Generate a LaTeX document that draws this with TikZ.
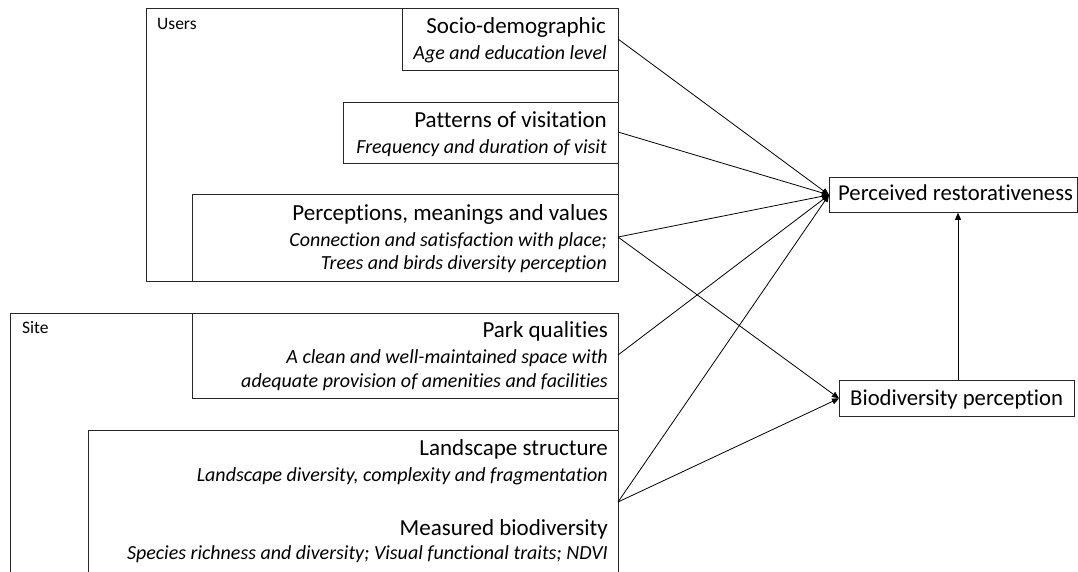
\documentclass[tikz,border=0pt]{standalone}
\usepackage{fontspec}
\setmainfont[Ligatures={NoCommon,NoRare,NoContextual}]{Carlito}
\usetikzlibrary{arrows.meta}

\begin{document}
\begin{tikzpicture}[x=1pt,y=-1pt,
  frame/.style={draw=black!85, line width=0.8pt},
  box/.style={frame, rectangle, inner sep=0pt, anchor=north west},
  head/.style={anchor=base east, inner sep=0pt, font=\fontsize{23}{27}\selectfont},
  sub/.style={anchor=base east, inner sep=0pt, font=\fontsize{20}{24}\selectfont\itshape},
  group/.style={anchor=base west, inner sep=0pt, font=\fontsize{17.5}{21}\selectfont},
  outcome/.style={anchor=base west, inner sep=0pt, font=\fontsize{22.7}{27}\selectfont},
  link/.style={draw=black, line width=0.8pt, -{Triangle[length=7pt,width=6pt]}}]
\useasboundingbox (0,0) rectangle (1078,571);
\clip (0,0) rectangle (1078,571);

% Users group
\node[box, minimum width=472pt, minimum height=273pt] (users) at (146,8) {};
\node[group] (userslbl) at (157,29) {Users};
\node[box, minimum width=216pt, minimum height=62pt] (socio) at (402,8) {};
\node[head] (sociot) at (606,33) {Socio-demographic};
\node[sub] (sociod) at (607,59) {Age and education level};
\node[box, minimum width=275pt, minimum height=61pt] (visit) at (343,102) {};
\node[head] (visitt) at (607,127) {Patterns of visitation};
\node[sub] (visitd) at (607,153) {Frequency and duration of visit};
\node[box, minimum width=426pt, minimum height=87pt] (percep) at (192,194) {};
\node[head] (percept) at (608,220) {Perceptions, meanings and values};
\node[sub] (percepd) at (607,246) {Connection and satisfaction with place;};
\node[sub] (percepe) at (607,269) {Trees and birds diversity perception};

% Site group, open at the bottom
\node[box, minimum width=608pt, minimum height=300pt] (site) at (10,313) {};
\node[group] (sitelbl) at (22,333) {Site};
\node[box, minimum width=426pt, minimum height=85pt] (park) at (192,313) {};
\node[head] (parkt) at (608,337) {Park qualities};
\node[sub] (parkd) at (608,363) {A clean and well-maintained space with};
\node[sub] (parke) at (608,387) {adequate provision of amenities and facilities};
\node[box, minimum width=530pt, minimum height=200pt] (land) at (88,430) {};
\node[head] (landt) at (608,455) {Landscape structure};
\node[sub] (landd) at (608,481) {Landscape diversity, complexity and fragmentation};
\node[head] (biot) at (608,535) {Measured biodiversity};
\node[sub] (biod) at (608,559) {Species richness and diversity; Visual functional traits; NDVI};

% Outcomes
\node[box, minimum width=248pt, minimum height=35pt] (restor) at (829,177) {};
\node[outcome] (restort) at (838,200) {Perceived restorativeness};
\node[box, minimum width=235pt, minimum height=36pt] (biop) at (839,380) {};
\node[outcome] (biopt) at (850,405) {Biodiversity perception};

% Exit points on the right side of the predictor boxes
\coordinate (socioout) at (618,39);
\coordinate (visitout) at (618,132);
\coordinate (percepout) at (618,237);
\coordinate (parkout) at (618,355);
\coordinate (landout) at (618,502);

% Paths
\draw[link] (socioout) -- (restor.west);
\draw[link] (visitout) -- (restor.west);
\draw[link] (percepout) -- (restor.west);
\draw[link] (parkout) -- (restor.west);
\draw[link] (landout) -- (restor.west);
\draw[link] (percepout) -- (biop.west);
\draw[link] (landout) -- (biop.west);
\draw[link] (biop.north -| 958,0) -- (restor.south -| 958,0);
\end{tikzpicture}
\end{document}
